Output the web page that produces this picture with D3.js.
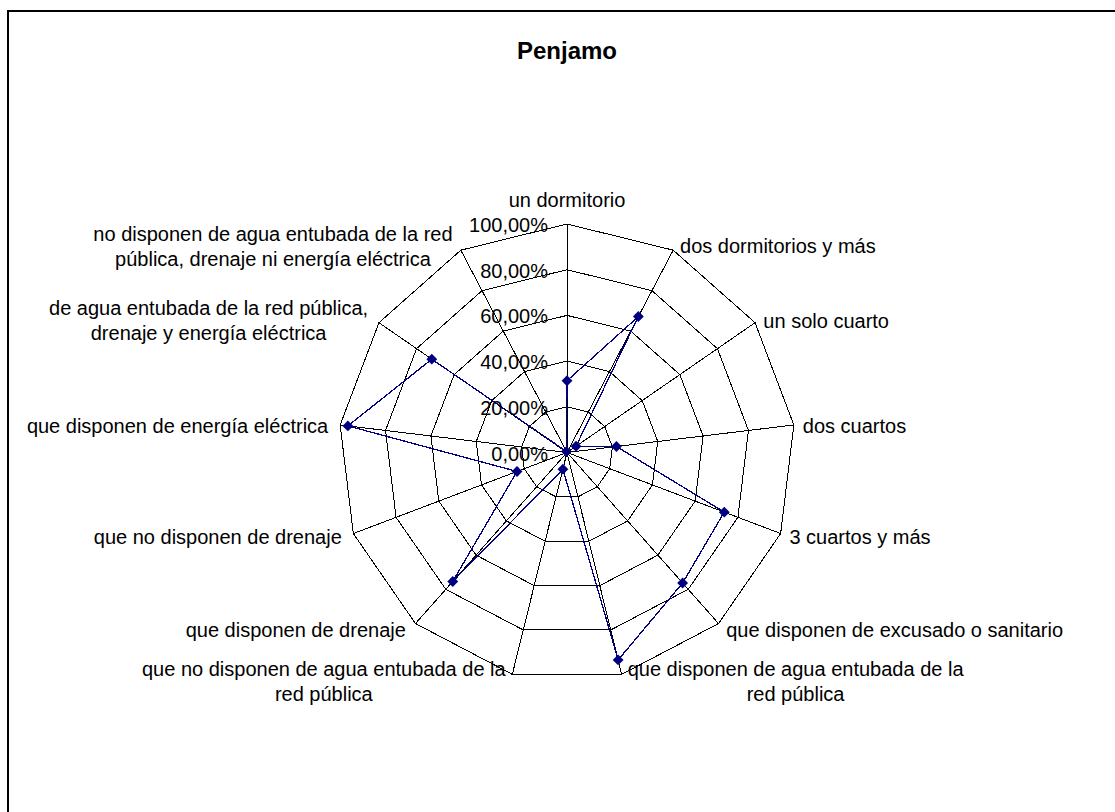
<!DOCTYPE html>
<html lang="es">
<head>
    <meta charset="UTF-8">
    <script src="https://cdn.jsdelivr.net/npm/d3@7"></script>
    <style>
        body { margin: 0; background: #fff; }
        svg text { font-family: Arial, "Liberation Sans", sans-serif; fill: #000; }
    </style>
</head>
<body>
    <div id="chart"></div>
</body>
<script>
    // DATA:

    const TITLE = "Penjamo";
    // categories (line breaks as in the original labels)
    const CATEGORIES = [
        ["un dormitorio"],
        ["dos dormitorios y más"],
        ["un solo cuarto"],
        ["dos cuartos"],
        ["3 cuartos y más"],
        ["que disponen de excusado o sanitario"],
        ["que disponen de agua entubada de la", "red pública"],
        ["que no disponen de agua entubada de la", "red pública"],
        ["que disponen de drenaje"],
        ["que no disponen de drenaje"],
        ["que disponen de energía eléctrica"],
        ["de agua entubada de la red pública,", "drenaje y energía eléctrica"],
        ["no disponen de agua entubada de la red", "pública, drenaje ni energía eléctrica"]
    ];
    // share of dwellings
    const VALUES = [0.314, 0.672, 0.048, 0.218, 0.736, 0.763, 0.935, 0.075, 0.754, 0.234, 0.966, 0.719, 0.005];
    const TICKS = [0, 0.2, 0.4, 0.6, 0.8, 1.0];
    const TICK_LABELS = ["0,00%", "20,00%", "40,00%", "60,00%", "80,00%", "100,00%"];

    // LAYOUT:

    const WIDTH = 1115;
    const HEIGHT = 812;
    const CX = 567, CY = 452.5, R = 228.5;
    const SERIES_COLOR = "#000080";

    const svg = d3.select("#chart").append("svg")
        .attr("width", WIDTH)
        .attr("height", HEIGHT);

    // outer chart frame (cut by the window on the right and bottom)
    svg.append("rect")
        .attr("x", 8).attr("y", 11)
        .attr("width", 1300).attr("height", 1000)
        .attr("fill", "none")
        .attr("stroke", "#000")
        .attr("stroke-width", 2);

    svg.append("text")
        .attr("x", CX).attr("y", 59)
        .attr("text-anchor", "middle")
        .style("font-size", "24px")
        .style("font-weight", "bold")
        .text(TITLE);

    const n = CATEGORIES.length;
    const rScale = d3.scaleLinear().domain([0, 1]).range([0, R]);
    const aScale = d3.scaleLinear().domain([0, n]).range([0, 2 * Math.PI]);

    // point on axis i at value v
    function pt(i, v) {
        const a = aScale(i);
        return [CX + rScale(v) * Math.sin(a), CY - rScale(v) * Math.cos(a)];
    }

    const g = svg.append("g");

    // grid rings
    const ringLine = d3.line();
    g.selectAll("path.ring")
        .data(TICKS.slice(1))
        .enter()
        .append("path")
        .attr("class", "ring")
        .attr("d", (t) => ringLine(d3.range(n).map(i => pt(i, t))) + "Z")
        .attr("fill", "none")
        .attr("stroke", "#000")
        .attr("stroke-width", 1)
        .attr("shape-rendering", "crispEdges");

    // spokes
    g.selectAll("line.spoke")
        .data(d3.range(n))
        .enter()
        .append("line")
        .attr("class", "spoke")
        .attr("x1", CX).attr("y1", CY)
        .attr("x2", (i) => pt(i, 1)[0])
        .attr("y2", (i) => pt(i, 1)[1])
        .attr("stroke", "#000")
        .attr("stroke-width", 1)
        .attr("shape-rendering", "crispEdges");

    // category labels
    const LINE_H = 25;
    g.selectAll("text.cat")
        .data(CATEGORIES)
        .enter()
        .append("text")
        .attr("class", "cat")
        .style("font-size", "20px")
        .each(function (lines, i) {
            const a = aScale(i);
            const s = Math.sin(a), c = Math.cos(a);
            const [vx, vy] = pt(i, 1);
            const el = d3.select(this);
            if (Math.abs(s) < 0.1) {
                // top axis: centred above the vertex
                el.attr("text-anchor", "middle");
                lines.forEach((ln, k) => {
                    el.append("tspan").attr("x", vx).attr("y", vy - 17 - (lines.length - 1 - k) * LINE_H).text(ln);
                });
                return;
            }
            const mid = vy - c * 6 + 1.5;
            const firstBase = mid + 7 - (lines.length - 1) * LINE_H / 2;
            if (lines.length === 1) {
                const x = s > 0 ? vx + 5 + 4 * Math.abs(s) : vx - 5 - 7 * Math.abs(s);
                el.attr("text-anchor", s > 0 ? "start" : "end")
                    .append("tspan").attr("x", x).attr("y", firstBase).text(lines[0]);
            } else {
                // multi-line block: lines centred within the block
                el.attr("text-anchor", "middle");
                const widths = lines.map(ln => {
                    const t = svg.append("text").style("font-size", "20px").text(ln);
                    const w = t.node().getComputedTextLength();
                    t.remove();
                    return w;
                });
                const bw = d3.max(widths);
                const xc = s > 0 ? vx + 5 + 4 * Math.abs(s) + bw / 2 : vx - 5 - 7 * Math.abs(s) - bw / 2;
                lines.forEach((ln, k) => {
                    el.append("tspan").attr("x", xc).attr("y", firstBase + k * LINE_H).text(ln);
                });
            }
        });

    // series
    const seriesPts = VALUES.map((v, i) => pt(i, v));
    g.append("path")
        .attr("d", d3.line()(seriesPts) + "Z")
        .attr("fill", "none")
        .attr("stroke", SERIES_COLOR)
        .attr("stroke-width", 1.3)
        .attr("shape-rendering", "crispEdges");

    g.selectAll("path.marker")
        .data(seriesPts)
        .enter()
        .append("path")
        .attr("class", "marker")
        .attr("transform", (d) => `translate(${d[0]},${d[1]})`)
        .attr("d", d3.symbol().type(d3.symbolDiamond2).size(75))
        .attr("fill", SERIES_COLOR);

    // value tick labels along the top axis
    g.selectAll("text.tick")
        .data(TICKS)
        .enter()
        .append("text")
        .attr("class", "tick")
        .attr("x", CX - 19)
        .attr("y", (t) => CY - rScale(t) + 1)
        .attr("dy", "0.35em")
        .attr("text-anchor", "end")
        .style("font-size", "20px")
        .text((t, i) => TICK_LABELS[i]);
</script>
</html>
